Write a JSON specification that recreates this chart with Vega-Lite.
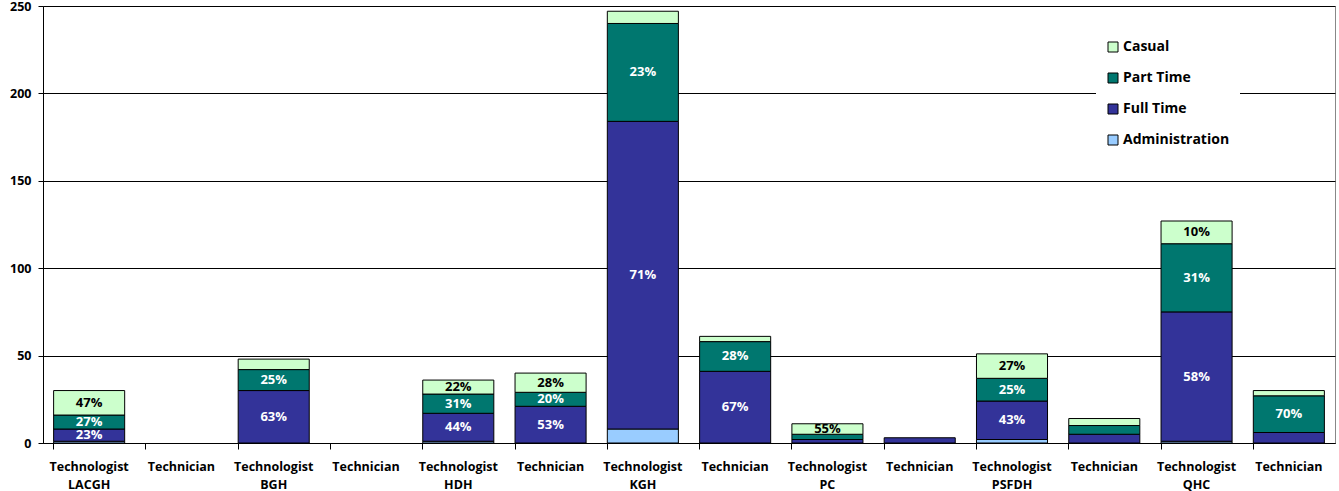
{
  "$schema": "https://vega.github.io/schema/vega-lite/v6.json",
  "autosize": {"type": "none"},
  "padding": {"left": 43, "top": 6, "right": 4, "bottom": 48},
  "width": 1292,
  "height": 437,
  "background": "white",
  "config": {
    "view": {"stroke": "#888888", "strokeWidth": 1},
    "font": "Open Sans"
  },
  "data": {
    "values": [
      {"cat": "Technologist LACGH", "type": "Administration", "count": 1, "label": ""},
      {"cat": "Technologist LACGH", "type": "Full Time", "count": 7, "label": "23%"},
      {"cat": "Technologist LACGH", "type": "Part Time", "count": 8, "label": "27%"},
      {"cat": "Technologist LACGH", "type": "Casual", "count": 14, "label": "47%"},
      {"cat": "Technologist BGH", "type": "Full Time", "count": 30, "label": "63%"},
      {"cat": "Technologist BGH", "type": "Part Time", "count": 12, "label": "25%"},
      {"cat": "Technologist BGH", "type": "Casual", "count": 6, "label": ""},
      {"cat": "Technologist HDH", "type": "Administration", "count": 1, "label": ""},
      {"cat": "Technologist HDH", "type": "Full Time", "count": 16, "label": "44%"},
      {"cat": "Technologist HDH", "type": "Part Time", "count": 11, "label": "31%"},
      {"cat": "Technologist HDH", "type": "Casual", "count": 8, "label": "22%"},
      {"cat": "Technician HDH", "type": "Full Time", "count": 21, "label": "53%"},
      {"cat": "Technician HDH", "type": "Part Time", "count": 8, "label": "20%"},
      {"cat": "Technician HDH", "type": "Casual", "count": 11, "label": "28%"},
      {"cat": "Technologist KGH", "type": "Administration", "count": 8, "label": ""},
      {"cat": "Technologist KGH", "type": "Full Time", "count": 176, "label": "71%"},
      {"cat": "Technologist KGH", "type": "Part Time", "count": 56, "label": "23%"},
      {"cat": "Technologist KGH", "type": "Casual", "count": 7, "label": ""},
      {"cat": "Technician KGH", "type": "Full Time", "count": 41, "label": "67%"},
      {"cat": "Technician KGH", "type": "Part Time", "count": 17, "label": "28%"},
      {"cat": "Technician KGH", "type": "Casual", "count": 3, "label": ""},
      {"cat": "Technologist PC", "type": "Full Time", "count": 2, "label": ""},
      {"cat": "Technologist PC", "type": "Part Time", "count": 3, "label": ""},
      {"cat": "Technologist PC", "type": "Casual", "count": 6, "label": "55%"},
      {"cat": "Technician PC", "type": "Full Time", "count": 3, "label": ""},
      {"cat": "Technologist PSFDH", "type": "Administration", "count": 2, "label": ""},
      {"cat": "Technologist PSFDH", "type": "Full Time", "count": 22, "label": "43%"},
      {"cat": "Technologist PSFDH", "type": "Part Time", "count": 13, "label": "25%"},
      {"cat": "Technologist PSFDH", "type": "Casual", "count": 14, "label": "27%"},
      {"cat": "Technician PSFDH", "type": "Full Time", "count": 5, "label": ""},
      {"cat": "Technician PSFDH", "type": "Part Time", "count": 5, "label": ""},
      {"cat": "Technician PSFDH", "type": "Casual", "count": 4, "label": ""},
      {"cat": "Technologist QHC", "type": "Administration", "count": 1, "label": ""},
      {"cat": "Technologist QHC", "type": "Full Time", "count": 74, "label": "58%"},
      {"cat": "Technologist QHC", "type": "Part Time", "count": 39, "label": "31%"},
      {"cat": "Technologist QHC", "type": "Casual", "count": 13, "label": "10%"},
      {"cat": "Technician QHC", "type": "Full Time", "count": 6, "label": ""},
      {"cat": "Technician QHC", "type": "Part Time", "count": 21, "label": "70%"},
      {"cat": "Technician QHC", "type": "Casual", "count": 3, "label": ""}
    ]
  },
  "transform": [
    {"calculate": "indexof(['Administration','Full Time','Part Time','Casual'], datum.type)", "as": "ord"}
  ],
  "encoding": {
    "x": {
      "field": "cat",
      "type": "nominal",
      "sort": null,
      "scale": {
        "domain": ["Technologist LACGH", "Technician LACGH", "Technologist BGH", "Technician BGH", "Technologist HDH", "Technician HDH", "Technologist KGH", "Technician KGH", "Technologist PC", "Technician PC", "Technologist PSFDH", "Technician PSFDH", "Technologist QHC", "Technician QHC"],
        "paddingInner": 0.23, "paddingOuter": 0.115
      },
      "axis": {
        "title": null,
        "labelAngle": 0,
        "bandPosition": 0,
        "labelExpr": "indexof(datum.value,'Technologist')==0 ? split(datum.value,' ') : split(datum.value,' ')[0]",
        "labelFont": "Open Sans",
        "labelFontWeight": "bold",
        "labelFontSize": 12.5,
        "labelColor": "black",
        "labelPadding": 11,
        "labelLineHeight": 18,
        "domainColor": "black",
        "tickColor": "black",
        "tickSize": 6
      }
    }
  },
  "layer": [
    {
      "mark": {"type": "bar", "stroke": "black", "strokeWidth": 1},
      "encoding": {
        "y": {
          "field": "count",
          "type": "quantitative",
          "stack": "zero",
          "scale": {"domain": [0, 250], "nice": false},
          "axis": {
            "title": null,
            "values": [0, 50, 100, 150, 200, 250],
            "grid": true,
            "gridColor": "black",
            "gridWidth": 1,
            "domainColor": "black",
            "tickColor": "black",
            "tickSize": 5,
            "labelFont": "Open Sans",
            "labelFontWeight": "bold",
            "labelFontSize": 12.5,
            "labelColor": "black",
            "labelPadding": 7
          }
        },
        "color": {
          "field": "type",
          "type": "nominal",
          "scale": {
            "domain": ["Casual", "Part Time", "Full Time", "Administration"],
            "range": ["#CCFFCC", "#00776F", "#333399", "#99CCFF"]
          },
          "legend": {
            "title": null,
            "orient": "none",
            "legendX": 1053,
            "legendY": 24,
            "fillColor": "white",
            "padding": 10,
            "symbolType": "square",
            "symbolSize": 100,
            "symbolStrokeColor": "black",
            "symbolStrokeWidth": 1,
            "labelFont": "Open Sans",
            "labelFontWeight": "bold",
            "labelFontSize": 14,
            "labelColor": "black",
            "rowPadding": 17,
            "labelOffset": 3
          }
        },
        "order": {"field": "ord", "type": "quantitative"}
      }
    },
    {
      "transform": [
        {"stack": "count", "groupby": ["cat"], "sort": [{"field": "ord"}], "as": ["y0", "y1"]},
        {"calculate": "(datum.y0 + datum.y1) / 2", "as": "mid"}
      ],
      "mark": {"type": "text", "font": "Open Sans", "fontWeight": "bold", "fontSize": 13, "baseline": "middle"},
      "encoding": {
        "y": {"field": "mid", "type": "quantitative", "scale": {"domain": [0, 250], "nice": false}},
        "text": {"field": "label"},
        "color": {
          "condition": {"test": "datum.type === 'Casual'", "value": "black"},
          "value": "white"
        }
      }
    }
  ]
}
